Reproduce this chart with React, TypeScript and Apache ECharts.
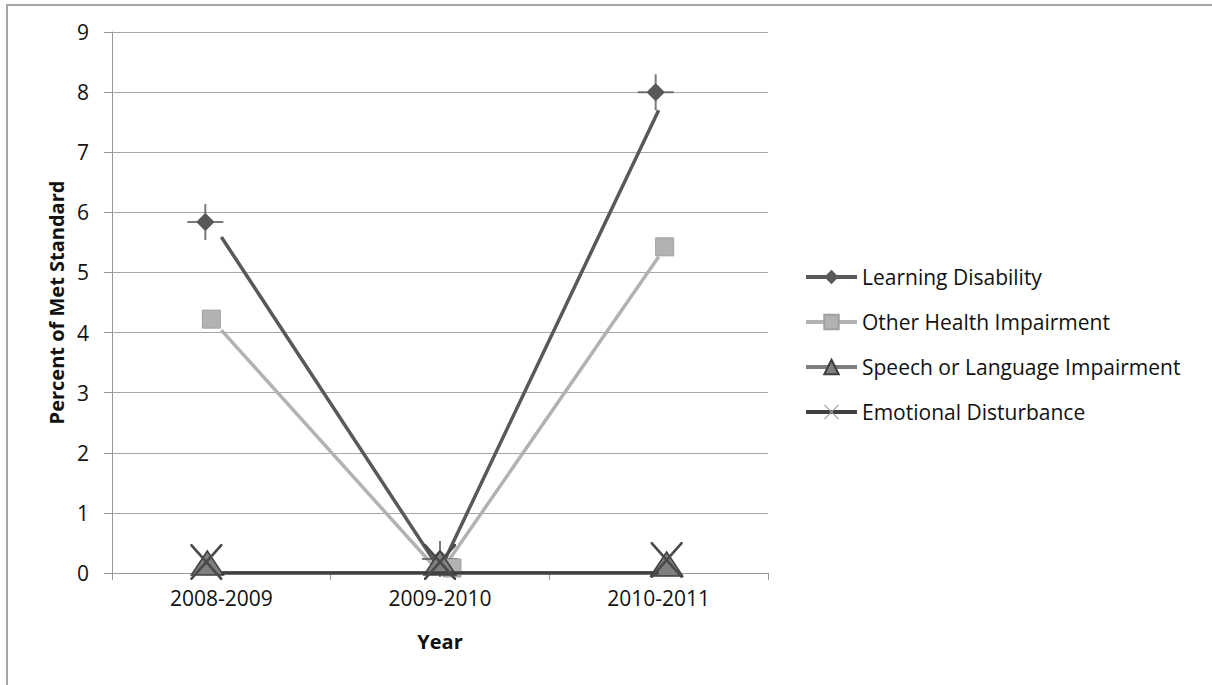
import React, { useEffect, useRef } from "react";
import * as echarts from "echarts";

const categories = ["2008-2009", "2009-2010", "2010-2011"];
const learningDisability = [5.59, 0.05, 7.7];
const otherHealthImpairment = [4.04, 0, 5.26];
const speechLanguageImpairment = [0, 0, 0];
const emotionalDisturbance = [0, 0, 0];
const yTicks = { min: 0, max: 9, interval: 1 };

// marker displacement (style only) per series per category, in px
const ldShift = [[-16, -15], [0, -11], [-3, -18]];
const ohiShift = [[-10, -11], [12, -5], [6, -10]];
const sliShift = [[-14, -10], [0, -10], [8, -9]];
const edShift = [[-15, -11], [0, -11], [8, -13]];

const FONT = "Open Sans";
const CROSS = "path://M18 9 L27 18 L18 27 L9 18 Z M0 17 L36 17 L36 19 L0 19 Z M17 0 L19 0 L19 36 L17 36 Z";
const XMARK = "path://M0 0 L2 0 L18 16 L34 0 L36 0 L36 2 L20 18 L36 34 L36 36 L34 36 L18 20 L2 36 L0 36 L0 34 L16 18 L0 2 Z";

const withShift = (vals: number[], shifts: number[][]) =>
  vals.map((v, i) => ({ value: v, symbolOffset: shifts[i] }));

export default function App() {
  const ref = useRef<HTMLDivElement>(null);
  useEffect(() => {
    document.body.style.margin = "0";
    const chart = echarts.init(ref.current!, undefined, { renderer: "svg" });
    chart.setOption({
      animation: false,
      backgroundColor: "#ffffff",
      graphic: [
        {
          type: "rect",
          shape: { x: 7, y: 5, width: 1400, height: 900 },
          style: { fill: "none", stroke: "#a6a6a6", lineWidth: 2 },
          silent: true,
        },
      ],
      grid: { left: 112, right: 444, top: 32, bottom: 112 },
      legend: {
        orient: "vertical",
        left: 804,
        top: 266,
        padding: 0,
        itemWidth: 51,
        itemHeight: 18,
        itemGap: 23,
        lineStyle: { width: 4 },
        textStyle: { fontFamily: FONT, fontSize: 21, color: "#111", lineHeight: 22 },
        data: [
          { name: "Learning Disability" },
          { name: "Other Health Impairment" },
          { name: "Speech or Language Impairment" },
          { name: "Emotional Disturbance", itemStyle: { color: "#a0a0a0" } },
        ],
      },
      xAxis: {
        type: "category",
        data: categories,
        boundaryGap: true,
        axisLine: { lineStyle: { color: "#999", width: 1 } },
        axisTick: { show: true, length: 7, lineStyle: { color: "#999" } },
        axisLabel: { margin: 14, fontFamily: FONT, fontSize: 21, color: "#111" },
        name: "Year",
        nameLocation: "middle",
        nameGap: 58,
        nameTextStyle: { fontFamily: FONT, fontSize: 20, fontWeight: "bold", color: "#111" },
      },
      yAxis: {
        type: "value",
        min: yTicks.min,
        max: yTicks.max,
        interval: yTicks.interval,
        axisLine: { show: true, lineStyle: { color: "#999", width: 1 } },
        axisTick: { show: true, length: 8, lineStyle: { color: "#999" } },
        splitLine: { lineStyle: { color: "#a6a6a6", width: 1 } },
        axisLabel: { margin: 23, fontFamily: FONT, fontSize: 21, color: "#111" },
        name: "Percent of Met Standard",
        nameLocation: "middle",
        nameGap: 46,
        nameTextStyle: { fontFamily: FONT, fontSize: 20, fontWeight: "bold", color: "#111" },
      },
      series: [
        {
          name: "Learning Disability",
          type: "line",
          data: withShift(learningDisability, ldShift),
          symbol: "diamond",
          symbolSize: 18,
          lineStyle: { color: "#595959", width: 3.5 },
          itemStyle: { color: "#595959" },
          z: 3,
        },
        {
          name: "LD cross",
          type: "scatter",
          data: withShift(learningDisability, ldShift),
          symbol: CROSS,
          symbolSize: 36,
          itemStyle: { color: "#595959" },
          z: 3,
          silent: true,
        },
        {
          name: "Other Health Impairment",
          type: "line",
          data: withShift(otherHealthImpairment, ohiShift),
          symbol: "rect",
          symbolSize: 18,
          lineStyle: { color: "#b2b2b2", width: 3.5 },
          itemStyle: { color: "#b2b2b2", borderColor: "#a0a0a0", borderWidth: 1 },
          z: 3,
        },
        {
          name: "Speech or Language Impairment",
          type: "line",
          data: withShift(speechLanguageImpairment, sliShift),
          symbol: "triangle",
          symbolSize: [32, 24],
          lineStyle: { color: "#7f7f7f", width: 3.5 },
          itemStyle: { color: "#7f7f7f", borderColor: "#3f3f3f", borderWidth: 1.5 },
          z: 3,
        },
        {
          name: "Emotional Disturbance",
          type: "line",
          data: withShift(emotionalDisturbance, edShift),
          symbol: XMARK,
          symbolSize: [32, 36],
          lineStyle: { color: "#3f3f3f", width: 3.5 },
          itemStyle: { color: "#4a4a4a" },
          z: 4,
        },
      ],
    });
    return () => chart.dispose();
  }, []);
  return <div ref={ref} style={{ width: 1212, height: 685 }} />;
}
